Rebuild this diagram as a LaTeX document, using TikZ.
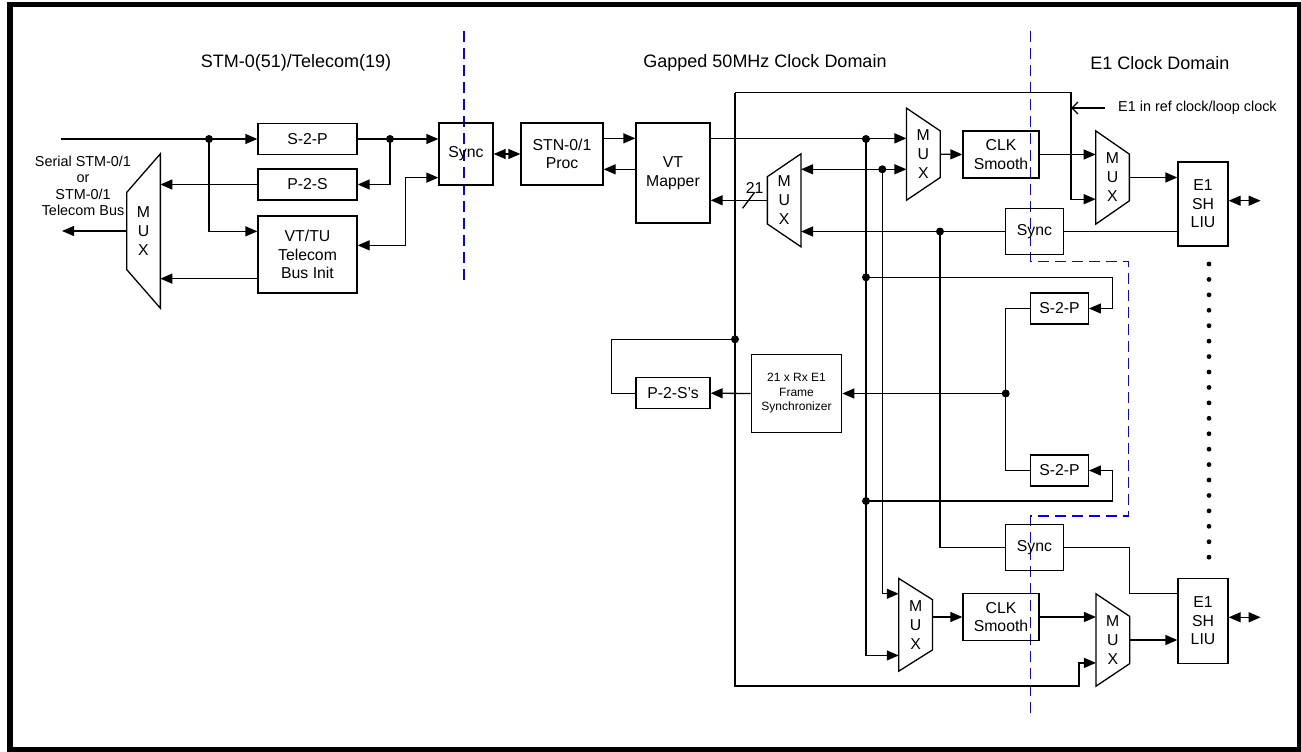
\documentclass[tikz,border=0pt]{standalone}
\usepackage{fontspec}
\setmainfont{Liberation Sans}
\usetikzlibrary{positioning, arrows.meta, calc}

% multiplexer: trapezoid round a named text node
\newcommand{\muxright}[4]{%
  \node[muxtxt, minimum height=#3] (#1) at #2 {M\\U\\X};
  \draw[wire] (#1.north west) -- ($(#1.east)+(0,-#4/2)$) -- ($(#1.east)+(0,#4/2)$) -- (#1.south west) -- cycle;}
\newcommand{\muxleft}[4]{%
  \node[muxtxt, minimum height=#3] (#1) at #2 {M\\U\\X};
  \draw[wire] (#1.north east) -- ($(#1.west)+(0,-#4/2)$) -- ($(#1.west)+(0,#4/2)$) -- (#1.south east) -- cycle;}

\begin{document}
\begin{tikzpicture}[x=1pt, y=-1pt, >={Triangle[length=12pt,width=10pt]},
    font=\fontsize{15.8}{18.5}\selectfont,
    wire/.style={line width=1.3pt},
    blk/.style={draw, line width=1.3pt, inner sep=0pt, align=center},
    muxtxt/.style={inner sep=0pt, minimum width=33.3pt, align=center, font=\fontsize{15.8}{19}\selectfont},
    small/.style={font=\fontsize{14.4}{16.5}\selectfont, align=center, inner sep=0pt},
    heading/.style={font=\fontsize{18}{20}\selectfont, inner sep=0pt},
    domline/.style={blue, line width=1.3pt, dash pattern=on 11pt off 6pt}]
    \useasboundingbox (0,0) rectangle (1301,752);
    \draw[line width=5.5pt] (10,4.5) rectangle (1299.5,750);

    % Domains
    \node[heading] (hdA) at (296,62.7) {STM-0(51)/Telecom(19)};
    \node[heading] (hdB) at (765,62.7) {Gapped 50MHz Clock Domain};
    \node[heading] (hdC) at (1160,62.7) {E1 Clock Domain};
    \draw[domline] (464,31) -- (464,282);
    \draw[domline] (1030.7,31) -- (1030.7,261.7) -- (1128.7,261.7) -- (1128.7,516) -- (1030.7,516) -- (1030.7,718);

    % STM-0 side
    \node[blk, minimum width=99, minimum height=31] (s2pA) at (307.5,139) {S-2-P};
    \node[blk, minimum width=99, minimum height=31] (p2s) at (307.5,184.5) {P-2-S};
    \node[blk, minimum width=99, minimum height=77] (vttu) at (307.5,254.5) {VT/TU\\Telecom\\Bus Init};
    \muxleft{muxL}{(143.5,231)}{154}{77}
    \node[small] (serlbl) at (83,186) {Serial STM-0/1\\or\\STM-0/1\\Telecom Bus};
    \node[blk, minimum width=54, minimum height=62] (syncA) at (466,154) {Sync};
    \coordinate (inS) at (61,139);
    \coordinate (outS) at (62,231);
    \coordinate (jA) at (209,139);
    \coordinate (jB) at (390,139);

    % Gapped 50MHz side
    \node[blk, minimum width=82, minimum height=62] (proc) at (562,154) {STN-0/1\\Proc};
    \node[blk, minimum width=74, minimum height=100] (mapper) at (673,173) {VT\\Mapper};
    \muxleft{muxM}{(784.2,200.3)}{92.7}{47.3}
    \node[blk, minimum width=74, minimum height=31] (p2ss) at (673,393.2) {P-2-S's};
    \node[blk, minimum width=90.4, minimum height=77.6, font=\fontsize{12}{14.5}\selectfont] (fsync) at (796.5,393.5) {21 x Rx E1\\Frame\\Synchronizer};
    \muxright{muxA}{(923.3,154.2)}{91.7}{46.7}
    \node[blk, minimum width=76, minimum height=47] (clkA) at (1001,154.5) {CLK\\Smooth};
    \node[blk, minimum width=57.6, minimum height=46] (syncB) at (1034.5,231.5) {Sync};
    \node[blk, minimum width=57.6, minimum height=31] (s2pB) at (1059.5,308.5) {S-2-P};
    \node[blk, minimum width=57.6, minimum height=31] (s2pC) at (1059.5,470.5) {S-2-P};
    \node[blk, minimum width=58, minimum height=46.5] (syncC) at (1034.5,547.5) {Sync};
    \muxright{muxC}{(915.6,624.8)}{92.3}{50.3}
    \node[blk, minimum width=76, minimum height=47] (clkB) at (1001,617) {CLK\\Smooth};
    \coordinate (fTL) at (735,92.7);
    \coordinate (fTR) at (1071,92.7);
    \coordinate (fBL) at (735,686);
    \coordinate (jC) at (866,139);
    \coordinate (jD) at (882.3,169.3);
    \coordinate (jE) at (940,231.5);
    \coordinate (jF) at (735,339.3);
    \coordinate (jG) at (866,277.3);
    \coordinate (jH) at (866,501);
    \coordinate (jI) at (1005.7,393.5);

    % E1 side
    \muxright{muxB}{(1112.5,177.5)}{93}{46.7}
    \node[blk, minimum width=50, minimum height=84] (liuA) at (1203,204) {E1\\SH\\LIU};
    \muxright{muxD}{(1112.8,640)}{92}{47.3}
    \node[blk, minimum width=50, minimum height=84.6] (liuB) at (1203,621) {E1\\SH\\LIU};
    \node[small, anchor=west] (reflbl) at (1118,108) {E1 in ref clock/loop clock};

    % STM-0 wiring
    \draw[wire,->] (inS) -- (s2pA.west);
    \draw[wire,->] (jA) |- ($(vttu.north west)+(0,16)$);
    \draw[wire,->] (s2pA.east) -- (s2pA.east -| syncA.west);
    \draw[wire,->] (jB) |- (p2s.east);
    \draw[wire,->] (p2s.west) -- (p2s.west -| muxL.east);
    \draw[wire,->] ($(vttu.south west)+(0,-15)$) coordinate (vtout) -- (vtout -| muxL.east);
    \draw[wire,->] (muxL.west) -- (outS);
    \draw[wire,<->] ($(syncA.south west)+(0,-8)$) -- ++(-33,0) |- ($(vttu.north east)+(0,30)$);
    \draw[wire,<->] (syncA.east) -- (proc.west);

    % mapper wiring
    \draw[wire,->] ($(proc.north east)+(0,16)$) coordinate (pr) -- (pr -| mapper.west);
    \draw[wire,->] ($(mapper.north west)+(0,47)$) coordinate (mp) -- (mp -| proc.east);
    \draw[wire,->] ($(mapper.north east)+(0,16)$) coordinate (mq) -- (mq -| muxA.west);
    \draw[wire,->] (muxM.west) -- (muxM.west -| mapper.east) coordinate[pos=0.33] (bus);
    \draw[wire] ($(bus)+(-6,8)$) -- ($(bus)+(6,-8)$);
    \node[inner sep=0pt] (busw) at ($(bus)+(6,-12.5)$) {21};
    \draw[wire,<->] (muxM.east |- jD) -- (muxA.west |- jD);
    \draw[wire,->] (syncB.west) -- (syncB.west -| muxM.east);
    \draw[wire] (syncB.east) -- (syncB.east -| liuA.west);

    % E1 reference clock loop
    \draw[wire,->] (fTL) -- (fTR) |- ($(muxB.south west)+(0,-25)$);
    \draw[wire,->] (fTL) -- (fBL) -- ++(344,0) |- ($(muxD.south west)+(0,-23.3)$);
    \draw[wire,-{Straight Barb[length=6pt,width=12pt]}] ($(reflbl.west)+(-13,0)$) -- (reflbl.west -| fTR);
    \draw[wire] (jF) -- ++(-123.3,0) |- (p2ss.west);
    \draw[wire,->] (fsync.west) -- (p2ss.east);

    % clock smoothing paths
    \draw[wire,->] (jC) |- ($(muxC.south west)+(0,-15.7)$);
    \draw[wire,->] (jD) |- ($(muxC.north west)+(0,15.3)$);
    \draw[wire] (jE) |- (syncC.west);
    \draw[wire] (syncC.east) -- ++(65.6,0) |- ($(liuB.north west)+(0,15.3)$);
    \draw[wire,->] (muxA.east) -- (clkA.west);
    \draw[wire,->] (clkA.east) -- (clkA.east -| muxB.west);
    \draw[wire,->] (muxB.east) -- (muxB.east -| liuA.west);
    \draw[wire,<->] ($(liuA.east)+(0,-3.3)$) -- ++(32,0);
    \draw[wire,->] (muxC.east |- clkB.west) -- (clkB.west);
    \draw[wire,->] (clkB.east) -- (clkB.east -| muxD.west);
    \draw[wire,->] (muxD.east) -- (muxD.east -| liuB.west);
    \draw[wire,<->] ($(liuB.east)+(0,-3.7)$) -- ++(32,0);

    % receive side
    \draw[wire,->] (jG) -- ++(246.7,0) |- (s2pB.east);
    \draw[wire,->] (jH) -- ++(246.7,0) |- (s2pC.east);
    \draw[wire] (s2pB.west) -| (jI) |- (s2pC.west);
    \draw[wire,->] (jI) -- (jI -| fsync.east);

    \foreach \j in {jA,jB,jC,jD,jE,jF,jG,jH,jI}
        \fill (\j) circle[radius=4pt];
    \foreach \k in {0,...,19}
        \fill (1209,264+15.43*\k) circle[radius=2.4pt];
\end{tikzpicture}
\end{document}
